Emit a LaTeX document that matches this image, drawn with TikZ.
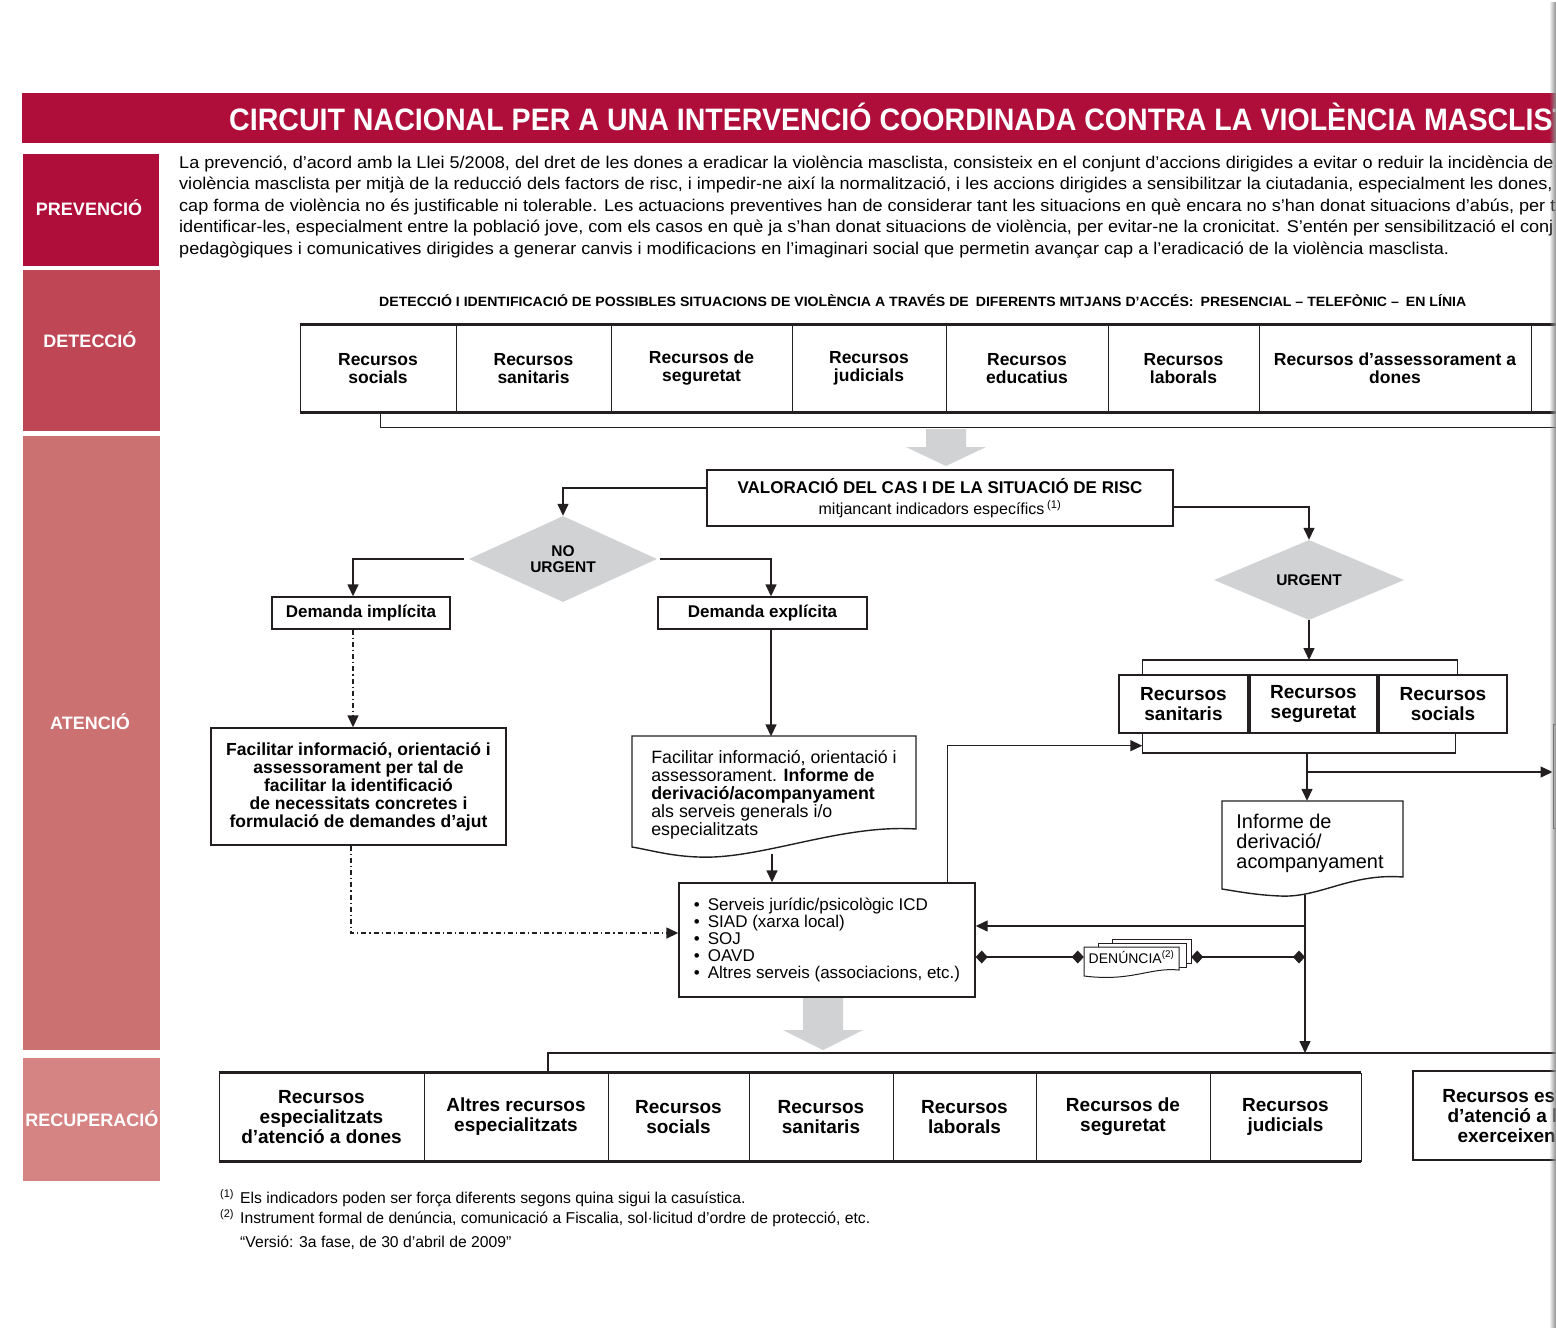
\documentclass[tikz,border=0pt]{standalone}
\usepackage{fontspec}
\setmainfont{Liberation Sans}
\usepackage{graphicx}
\usetikzlibrary{arrows.meta,shapes.geometric,calc,fadings}

\definecolor{crimson}{RGB}{176,14,58}
\definecolor{detred}{RGB}{190,70,85}
\definecolor{atenred}{RGB}{203,113,113}
\definecolor{recred}{RGB}{213,131,131}
\definecolor{pale}{RGB}{209,210,212}
\definecolor{ink}{RGB}{35,31,32}

% horizontal scale factors for the condensed lines, measured once
\newlength\measw
\AtBeginDocument{%
  \settowidth\measw{\fontsize{31}{31}\selectfont\bfseries CIRCUIT NACIONAL PER A UNA INTERVENCIÓ COORDINADA CONTRA LA VIOLÈNCIA}%
  \pgfmathsetmacro\titlesx{1187/\measw}\global\let\titlesx\titlesx
  \settowidth\measw{\fontsize{17}{20}\selectfont pedagògiques i comunicatives dirigides a generar canvis i modificacions en l’imaginari social que permetin avançar cap a l’eradicació de la violència masclista.}%
  \pgfmathsetmacro\bodysx{1270/\measw}\global\let\bodysx\bodysx
}

\tikzset{
  ln/.style={draw=ink, line width=1.4pt},
  arr/.style={ln, -{Triangle[length=12pt,width=11pt]}},
  dashdot/.style={dash pattern=on 5pt off 3pt on 1.2pt off 3pt},
  dia/.style={ln, {Diamond[length=12pt,width=13pt]}-{Diamond[length=12pt,width=13pt]}},
  phase/.style={fill=#1, draw=none, minimum width=137pt, inner sep=0pt},
  phaselbl/.style={text=white, inner sep=0pt, font=\fontsize{18}{18}\selectfont\bfseries},
  rowbox/.style={draw=ink, line width=0.9pt, align=center, inner sep=0pt, minimum height=87pt, font=\fontsize{17.5}{18}\selectfont\bfseries},
  recbox/.style={draw=ink, line width=0.9pt, align=center, inner sep=0pt, minimum height=88pt, font=\fontsize{19}{20}\selectfont\bfseries},
  box/.style={draw=ink, line width=1.4pt, align=center, inner sep=0pt},
  decision/.style={diamond, aspect=2.2, fill=pale, draw=none, inner sep=0pt, align=center, font=\fontsize{15.5}{16}\selectfont\bfseries},
  plain/.style={inner sep=0pt, align=left},
  bodyline/.style={anchor=base west, inner sep=0pt, font=\fontsize{17}{20}\selectfont},
  note/.style={anchor=base west, inner sep=0pt, font=\fontsize{15.7}{16}\selectfont},
  sheet/.style={draw=ink, line width=1pt, fill=white},
}

\begin{document}
\begin{tikzpicture}[x=1pt,y=-1pt]
\useasboundingbox (0,0) rectangle (1556,1328);
\clip (0,0) rectangle (1556,1328);

% ---------- title bar ----------
\fill[crimson] (22,93) rectangle (1556,143);
\node[anchor=base west, inner sep=0pt, text=white, font=\fontsize{31}{31}\selectfont\bfseries] (title) at (229,130)
  {\scalebox{\titlesx}[1]{CIRCUIT NACIONAL PER A UNA INTERVENCIÓ COORDINADA CONTRA LA VIOLÈNCIA MASCLISTA}};

% ---------- phase column ----------
\node[phase=crimson, minimum width=136pt, minimum height=112pt] (prev) at (91,210) {};
\node[phaselbl] (prevlbl) at (89,208) {PREVENCIÓ};
\node[phase=detred, minimum height=161pt] (det) at (91,350.5) {};
\node[phaselbl] (detlbl) at (90,340) {DETECCIÓ};
\node[phase=atenred, minimum height=614pt] (ate) at (91,743) {};
\node[phaselbl] (atelbl) at (90,722) {ATENCIÓ};
\node[phase=recred, minimum height=123pt] (rec) at (91,1119.5) {};
\node[phaselbl] (reclbl) at (92,1119) {RECUPERACIÓ};

% ---------- prevention paragraph ----------
\node[bodyline] (p1) at (179,168) {\scalebox{\bodysx}[1]{La prevenció, d’acord amb la Llei 5/2008, del dret de les dones a eradicar la violència masclista, consisteix en el conjunt d’accions dirigides a evitar o reduir la incidència de la}};
\node[bodyline] (p2) at (179,189.5) {\scalebox{\bodysx}[1]{violència masclista per mitjà de la reducció dels factors de risc, i impedir-ne així la normalització, i les accions dirigides a sensibilitzar la ciutadania, especialment les dones, t}};
\node[bodyline] (p3) at (179,211) {\scalebox{\bodysx}[1]{cap forma de violència no és justificable ni tolerable. Les actuacions preventives han de considerar tant les situacions en què encara no s’han donat situacions d’abús, per t}};
\node[bodyline] (p4) at (179,232.5) {\scalebox{\bodysx}[1]{identificar-les, especialment entre la població jove, com els casos en què ja s’han donat situacions de violència, per evitar-ne la cronicitat. S’entén per sensibilització el conj}};
\node[bodyline] (p5) at (179,254) {\scalebox{\bodysx}[1]{pedagògiques i comunicatives dirigides a generar canvis i modificacions en l’imaginari social que permetin avançar cap a l’eradicació de la violència masclista.}};

% ---------- detection ----------
\node[anchor=base west, inner sep=0pt, font=\fontsize{13.5}{14}\selectfont\bfseries] (dethdr) at (379,306)
  {\resizebox{1087pt}{\height}{DETECCIÓ I IDENTIFICACIÓ DE POSSIBLES SITUACIONS DE VIOLÈNCIA A TRAVÉS DE\enspace DIFERENTS MITJANS D’ACCÉS:\enspace PRESENCIAL – TELEFÒNIC –\enspace EN LÍNIA}};

\node[rowbox, minimum width=156pt] (d1) at (378,368.5) {Recursos\\socials};
\node[rowbox, minimum width=155pt] (d2) at (533.5,368.5) {Recursos\\sanitaris};
\node[rowbox, minimum width=181pt] (d3) at (701.5,368.5) {Recursos de\\seguretat};
\node[rowbox, minimum width=154pt] (d4) at (869,368.5) {Recursos\\judicials};
\node[rowbox, minimum width=162pt] (d5) at (1027,368.5) {Recursos\\educatius};
\node[rowbox, minimum width=151pt] (d6) at (1183.5,368.5) {Recursos\\laborals};
\node[rowbox, minimum width=272pt] (d7) at (1395,368.5) {Recursos d’assessorament a\\dones};
\node[rowbox, minimum width=169pt] (d8) at (1615.5,368.5) {};
\draw[ink, line width=2.6pt] (d1.north west) -- (d8.north east);
\draw[ink, line width=2.6pt] (d1.south west) -- (d8.south east);

\coordinate (detbr) at (380,427);
\draw[ink, line width=1pt] (detbr |- d1.south) -- (detbr) -- (detbr -| d8.east);

% wide grey arrows
\fill[pale] (926,429) -- (966,429) -- (966,447) -- (986,447) -- (946,466) -- (906,447) -- (926,447) -- cycle;
\fill[pale] (803,998) -- (843,998) -- (843,1030) -- (863,1030) -- (823,1050) -- (783,1030) -- (803,1030) -- cycle;

% ---------- assessment ----------
\node[box, minimum width=466pt, minimum height=56pt, font=\fontsize{16}{21}\selectfont] (val) at (940,498)
  {{\fontsize{17}{21}\selectfont\bfseries VALORACIÓ DEL CAS I DE LA SITUACIÓ DE RISC}\\mitjancant indicadors específics\,\textsuperscript{(1)}};

\node[decision, minimum width=188pt, minimum height=86pt] (nourg) at (563,559) {NO\\URGENT};
\node[decision, minimum width=190pt, minimum height=80pt] (urg) at (1309,580) {URGENT};

\draw[arr] ([yshift=10pt]val.west) -| (nourg.north);
\draw[arr] ([yshift=-9pt]val.east) -| (urg.north);

% ---------- non-urgent branch ----------
\node[box, minimum width=178pt, minimum height=32pt, font=\fontsize{17}{20}\selectfont\bfseries] (dimp) at (361,613) {Demanda implícita};
\node[box, minimum width=209pt, minimum height=32pt, font=\fontsize{17}{20}\selectfont\bfseries] (dexp) at (762.5,613) {Demanda explícita};

\coordinate (c1) at ([xshift=-8pt]dimp.north);
\coordinate (c2) at ([xshift=8.5pt]dexp.north);
\draw[arr] ([xshift=-5pt]nourg.west) -| (c1);
\draw[arr] ([xshift=3pt]nourg.east) -| (c2);

\node[box, minimum width=295pt, minimum height=117pt, font=\fontsize{17.5}{18}\selectfont\bfseries] (fimp) at (358.5,786.5)
  {Facilitar informació, orientació i\\assessorament per tal de\\facilitar la identificació\\de necessitats concretes i\\formulació de demandes d’ajut};

\coordinate (c3) at ([xshift=-8pt]dimp.south);
\draw[arr, dashdot] (c3) -- (c3 |- fimp.north);

% document shape for the explicit demand
\draw[ln] (632,736) -- (916,736) -- (916,829) .. controls (840,824) and (760,860) .. (698,857) .. controls (670,856) and (650,850) .. (632,847) -- cycle;
\node[plain, minimum width=284pt, minimum height=117pt, font=\fontsize{17.8}{18}\selectfont] (fexp) at (774,795)
  {Facilitar informació, orientació i\\assessorament. \textbf{Informe de}\\\textbf{derivació/acompanyament}\\als serveis generals i/o\\especialitzats};

\coordinate (c4) at ([xshift=8.5pt]dexp.south);
\draw[arr] (c4) -- (c4 |- fexp.north);

% services
\node[box, minimum width=296pt, minimum height=114pt, align=left, font=\fontsize{17}{17}\selectfont] (serv) at (827,940)
  {\makebox[14pt][l]{•}Serveis jurídic/psicològic ICD\\\makebox[14pt][l]{•}SIAD (xarxa local)\\\makebox[14pt][l]{•}SOJ\\\makebox[14pt][l]{•}OAVD\\\makebox[14pt][l]{•}Altres serveis (associacions, etc.)};

\coordinate (c5) at ([xshift=-2pt,yshift=0pt]fexp.south);
\draw[arr] (c5) -- (c5 |- serv.north);

\coordinate (c6) at ([xshift=-7.5pt]fimp.south);
\coordinate (c7) at ([yshift=7pt]serv.west);
\draw[arr, dashdot] (c6) |- (c7);

% ---------- urgent branch ----------
\node[box, minimum width=129pt, minimum height=58pt, font=\fontsize{19}{20}\selectfont\bfseries] (sanu) at (1183.5,704) {Recursos\\sanitaris};
\node[box, minimum width=127pt, minimum height=58pt, font=\fontsize{19}{20}\selectfont\bfseries] (segu) at (1313.5,704) {Recursos\\seguretat};
\node[box, minimum width=128pt, minimum height=58pt, font=\fontsize{19}{20}\selectfont\bfseries] (socu) at (1443,704) {Recursos\\socials};

\coordinate (ubt) at (1308,660);
\draw[ln] ([xshift=24pt]sanu.north west) |- (ubt) -| ([xshift=-50pt]socu.north east);
\draw[arr] (urg.south) -- (urg.south |- ubt);

\coordinate (ubb) at (1307,753);
\draw[ln] ([xshift=24pt]sanu.south west) |- (ubb) -| ([xshift=-52pt]socu.south east);

\coordinate (c8) at ([xshift=-28pt]serv.north east);
\coordinate (c9) at ([xshift=24pt,yshift=-12pt]sanu.south west);
\draw[arr] (c8) |- (c9);

% document shape for the urgent referral
\draw[ln] (1222,801) -- (1403,801) -- (1403,877) .. controls (1350,873) and (1320,898) .. (1280,896) .. controls (1255,895) and (1235,891) .. (1222,889) -- cycle;
\node[plain, minimum width=181pt, minimum height=84pt, font=\fontsize{19.9}{20}\selectfont] (inf) at (1310,843)
  {Informe de\\derivació/\\acompanyament};
\draw[arr] (ubb) -- (ubb |- inf.north);

\node[draw=ink!75, line width=1pt, minimum width=147pt, minimum height=104pt, inner sep=0pt] (rbox) at (1626.5,776) {};
\coordinate (ubr) at (1307,772);
\draw[arr] (ubr) -- (ubr -| rbox.west);

% report stack
\draw[sheet] (1112,939) -- (1191,939) -- (1191,963) -- (1112,963) -- cycle;
\draw[sheet] (1098,943) -- (1186,943) -- (1186,967) -- (1098,967) -- cycle;
\draw[sheet] (1084,947) -- (1179,947) -- (1179,970) .. controls (1150,967) and (1132,982) .. (1084,976) -- cycle;
\node[inner sep=0pt, minimum width=95pt, minimum height=24pt, font=\fontsize{14}{14}\selectfont] (den) at (1131.5,957)
  {\raisebox{-5pt}{DENÚNCIA\textsuperscript{(2)}}};

% ---------- recovery ----------
\node[recbox, minimum width=205pt] (b1) at (321.5,1117) {Recursos\\especialitzats\\d’atenció a dones};
\node[recbox, minimum width=184pt] (b2) at (516,1117) {Altres recursos\\especialitzats};
\node[recbox, minimum width=141pt] (b3) at (678.5,1117) {Recursos\\socials};
\node[recbox, minimum width=144pt] (b4) at (821,1117) {Recursos\\sanitaris};
\node[recbox, minimum width=143pt] (b5) at (964.5,1117) {Recursos\\laborals};
\node[recbox, minimum width=174pt] (b6) at (1123,1117) {Recursos de\\seguretat};
\node[recbox, minimum width=151pt] (b7) at (1285.5,1117) {Recursos\\judicials};
\draw[ink, line width=2.6pt] (b1.north west) -- (b7.north east);
\draw[ink, line width=2.6pt] (b1.south west) -- (b7.south east);
\node[box, minimum width=274pt, minimum height=89pt, font=\fontsize{19}{20}\selectfont\bfseries] (b8) at (1550,1115.5)
  {Recursos especialitzats\\d’atenció a homes que\\exerceixen violència};

\coordinate (bbr) at (548,1053);
\draw[ln] (bbr |- b2.north) -- (bbr) -- (bbr -| b8.east);

% urgent referral line down to recovery, with its branches
\coordinate (vtop) at ([xshift=-5pt,yshift=-10pt]inf.south);
\draw[arr] (vtop) -- (vtop |- bbr);
\coordinate (sin) at ([yshift=14pt]serv.east);
\draw[arr] (vtop |- sin) -- (sin);
\coordinate (dl) at ([yshift=-17pt]serv.east);
\draw[dia] (dl) -- (den.west);
\draw[dia] ([xshift=12pt]den.east) -- (vtop |- den.east);

% ---------- notes ----------
\node[note] (fn1) at (220,1203)
  {\makebox[20pt][l]{\textsuperscript{(1)}}Els indicadors poden ser força diferents segons quina sigui la casuística.};
\node[note] (fn2) at (220,1223)
  {\makebox[20pt][l]{\textsuperscript{(2)}}Instrument formal de denúncia, comunicació a Fiscalia, sol·licitud d’ordre de protecció, etc.};
\node[note] (fn3) at (240,1247)
  {“Versió: 3a fase, de 30 d’abril de 2009”};

% page edge shading
\fill[black!45, path fading=west] (1549,0) rectangle (1556,1328);
\end{tikzpicture}
\end{document}
